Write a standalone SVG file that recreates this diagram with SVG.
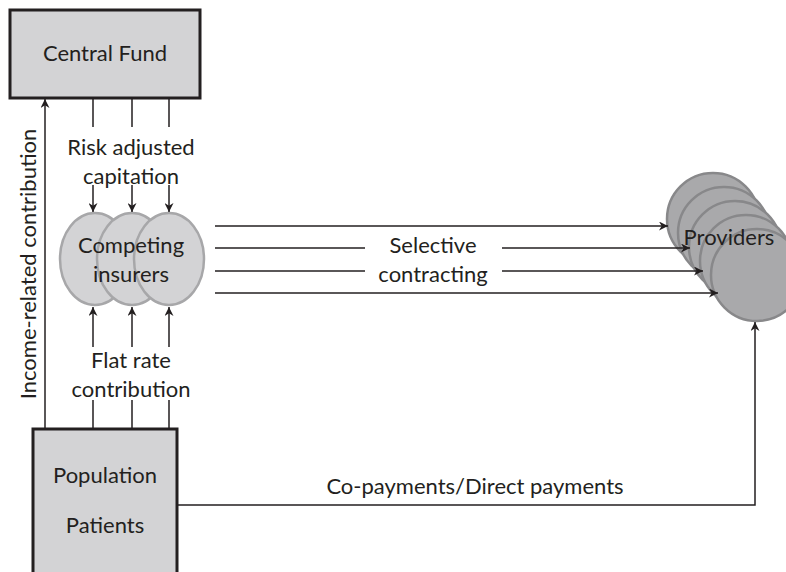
<svg xmlns="http://www.w3.org/2000/svg" width="786" height="572" viewBox="0 0 786 572">
<style>
.t{font-family:Lato,"Open Sans","Liberation Sans",sans-serif;font-size:22px;fill:#231f20;text-anchor:middle}
.box{fill:#d3d3d5;stroke:#231f20;stroke-width:3}
.ins{fill:#d3d3d5;stroke:#a7a7a9;stroke-width:2.5}
.prov{fill:#a9a9ab;stroke:#88888a;stroke-width:2.5}
.ln{fill:none;stroke:#231f20;stroke-width:1.5}
.ar{fill:none;stroke:#231f20;stroke-width:1.5;marker-end:url(#ah)}
</style>
<defs>
<marker id="ah" viewBox="0 0 10 10" refX="10" refY="5" markerWidth="10" markerHeight="9" markerUnits="userSpaceOnUse" orient="auto">
<path d="M0,0 L10,5 L0,10 L3,5 Z" fill="#231f20"/>
</marker>
</defs>
<rect width="786" height="572" fill="#fff"/>
<g id="central-fund">
<rect class="box" x="10" y="10" width="190" height="88"/>
<text class="t" x="105" y="61">Central Fund</text>
</g>
<g id="providers">
<circle class="prov" cx="713" cy="219" r="46"/>
<circle class="prov" cx="724" cy="233" r="46"/>
<circle class="prov" cx="735" cy="247" r="46"/>
<circle class="prov" cx="746" cy="261" r="46"/>
<circle class="prov" cx="757" cy="275" r="46"/>
<text class="t" x="729" y="245">Providers</text>
</g>
<g id="competing-insurers">
<ellipse class="ins" cx="95" cy="259" rx="35" ry="46"/>
<ellipse class="ins" cx="132" cy="259" rx="35" ry="46"/>
<ellipse class="ins" cx="169" cy="259" rx="35" ry="46"/>
<text class="t" x="131" y="253">Competing</text>
<text class="t" x="131" y="282">insurers</text>
</g>
<g id="population">
<rect class="box" x="33" y="429" width="144" height="160"/>
<text class="t" x="105" y="483">Population</text>
<text class="t" x="105" y="533">Patients</text>
</g>
<g id="connectors">
<path class="ar" d="M45,429 V99"/>
<text class="t" transform="translate(36,264) rotate(-90)">Income-related contribution</text>
<path class="ln" d="M93,98 V127 M132,98 V127 M169,98 V127"/>
<text class="t" x="131" y="155">Risk adjusted</text>
<text class="t" x="131" y="184">capitation</text>
<path class="ar" d="M93,185 V212"/>
<path class="ar" d="M132,185 V212"/>
<path class="ar" d="M169,185 V212"/>
<path class="ar" d="M93,347 V307"/>
<path class="ar" d="M132,347 V307"/>
<path class="ar" d="M169,347 V307"/>
<text class="t" x="131" y="368">Flat rate</text>
<text class="t" x="131" y="397">contribution</text>
<path class="ln" d="M93,400 V429 M132,400 V429 M169,400 V429"/>
<path class="ar" d="M215,226 H668"/>
<path class="ln" d="M215,248 H365"/>
<path class="ar" d="M502,248 H690"/>
<path class="ln" d="M215,271 H365"/>
<path class="ar" d="M502,271 H703"/>
<path class="ar" d="M215,293 H718"/>
<text class="t" x="433" y="253">Selective</text>
<text class="t" x="433" y="282">contracting</text>
<path class="ar" d="M177,505 H755 V322"/>
<text class="t" x="475" y="494">Co-payments/Direct payments</text>
</g>
</svg>
